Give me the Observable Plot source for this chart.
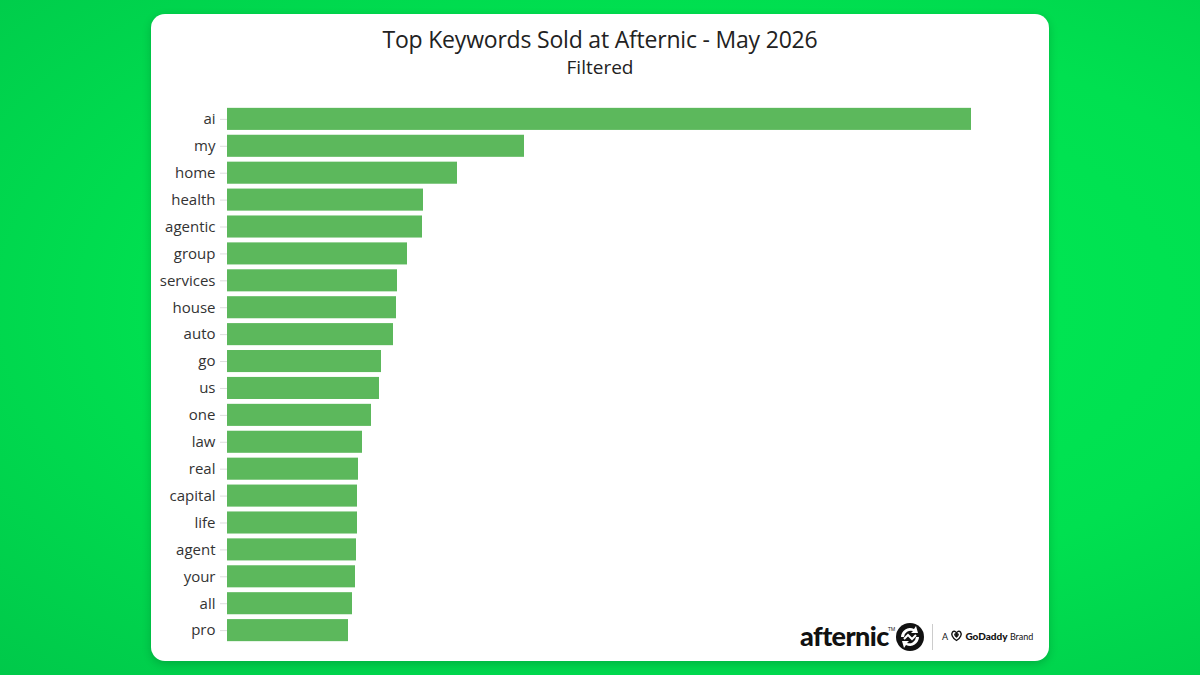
<!DOCTYPE html>
<html>
<head>
<meta charset="utf-8">
<script src="https://cdn.jsdelivr.net/npm/d3@7"></script>
<script src="https://cdn.jsdelivr.net/npm/@observablehq/plot@0.6"></script>
<style>
  html, body { margin: 0; padding: 0; width: 1200px; height: 675px; overflow: hidden; }
  body { background: radial-gradient(ellipse at 60% 45%, #00ea55 0%, #00e050 55%, #00c94a 100%); font-family: "Open Sans", "Noto Sans", sans-serif; }
  #card { position: absolute; left: 151px; top: 14px; width: 898px; height: 647px; background: #fff; border-radius: 14px; box-shadow: 0 3px 10px rgba(0,0,0,0.18); overflow: hidden; }
  #head { height: 80px; text-align: center; color: #222; }
  #title { padding-top: 12px; font-size: 23px; line-height: 26px; letter-spacing: -0.2px; }
  #subtitle { font-size: 19px; line-height: 22px; margin-top: 4px; }
  #logo { position: absolute; left: 649px; top: 608px; height: 30px; width: 240px; }
  #logo .af { position: absolute; left: 0; top: -3px; font-family: "Lato", sans-serif; font-weight: 900; font-size: 27px; letter-spacing: -0.6px; color: #111; }
  #logo .tm { position: absolute; left: 88px; top: 4px; font-size: 5px; color: #111; }
  #logo .sep { position: absolute; left: 132px; top: 2px; width: 1px; height: 26px; background: #ccc; }
  #logo .gd { position: absolute; left: 142px; top: 8px; font-family: "Lato", sans-serif; font-size: 9px; color: #111; white-space: nowrap; }
  #logo .gd b { font-weight: 900; font-size: 10px; }
</style>
</head>
<body>
<div id="card">
  <div id="head">
    <div id="title">Top Keywords Sold at Afternic - May 2026</div>
    <div id="subtitle">Filtered</div>
  </div>
  <div id="chart"></div>
  <div id="logo">
    <span class="af">afternic</span><span class="tm">TM</span>
    <svg style="position:absolute;left:95px;top:0px" width="30" height="30" viewBox="0 0 30 30">
      <circle cx="15" cy="15" r="14" fill="#111"/>
      <path d="M6 15 A9 9 0 0 1 19 7 L21 4 L23 11 L16 11 L18 9 A7 7 0 0 0 9 15 Z" fill="#fff"/>
      <path d="M24 15 A9 9 0 0 1 11 23 L9 26 L7 19 L14 19 L12 21 A7 7 0 0 0 21 15 Z" fill="#fff"/>
      <path d="M9 17 L13 13 L17 17 L21 13" stroke="#fff" stroke-width="2" fill="none"/>
    </svg>
    <div class="sep"></div>
    <div class="gd">A <svg width="13" height="12" viewBox="0 0 13 12" style="vertical-align:-2px"><path d="M6.5 10.5 C2 8 1 4 2.5 2 C4 0.5 6 1.5 6.5 3.5 C7 1.5 9 0.5 10.5 2 C12 4 11 8 6.5 10.5 Z M6.5 7 C5 6 4.5 4.5 5 4 C5.5 3.5 6.2 4 6.5 5 C6.8 4 7.5 3.5 8 4 C8.5 4.5 8 6 6.5 7 Z" fill="none" stroke="#111" stroke-width="1.3"/></svg> <b>GoDaddy</b> Brand</div>
  </div>
</div>
<script>
const keywords = ["ai","my","home","health","agentic","group","services","house","auto","go","us","one","law","real","capital","life","agent","your","all","pro"];
const counts = [186, 74.25, 57.5, 49, 48.75, 45, 42.5, 42.25, 41.5, 38.5, 38, 36, 33.75, 32.75, 32.5, 32.5, 32.25, 32, 31.25, 30.25];

const data = keywords.map((k, i) => ({keyword: k, count: counts[i]}));

const chart = Plot.plot({
  width: 898,
  height: 560,
  marginLeft: 76,
  marginRight: 78,
  marginTop: 9,
  marginBottom: 8,
  style: {fontFamily: "'Open Sans', 'Noto Sans', sans-serif", fontSize: "15px", background: "transparent", color: "#333"},
  x: {domain: [0, d3.max(counts)], axis: null},
  y: {domain: keywords, padding: 0.18, round: false, label: null},
  marks: [
    Plot.axisY({tickSize: 7, tickPadding: 5, stroke: "#ddd", fill: "#333", label: null, fontSize: 15}),
    Plot.barX(data, {x: "count", y: "keyword", fill: "#5cb85c"})
  ]
});
document.getElementById("chart").appendChild(chart);
</script>
</body>
</html>
